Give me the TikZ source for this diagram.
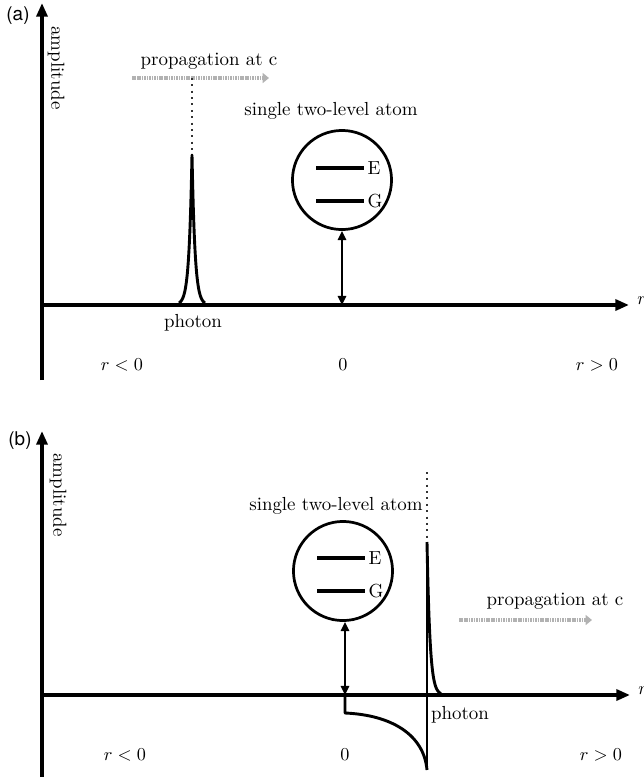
\documentclass[tikz,border=0pt]{standalone}
\usepackage{fontspec}
\newfontfamily\helv{TeX Gyre Heros}
\usetikzlibrary{arrows.meta}
\begin{document}
\begin{tikzpicture}[x=0.55pt,y=-0.55pt,
  every node/.style={font=\fontsize{10.4}{12}\selectfont},
  axis/.style={line width=1.9pt,-{Triangle[length=7.5pt,width=6pt]}},
  dbl/.style={line width=1.5pt,{Triangle[length=5pt,width=4.5pt]}-{Triangle[length=5pt,width=4.5pt]}},
  curve/.style={line width=1.6pt,line join=round},
  level/.style={line width=1.9pt},
  atom/.style={circle,draw,line width=1.5pt,minimum size=54.5pt,inner sep=0pt},
  prop/.style={line width=2.4pt,draw=black!30,dash pattern=on 0.9pt off 0.45pt,-{Triangle[length=3.5pt,width=5.5pt,color=black!30]}},
  dots/.style={line width=1.3pt,draw=black!80,dash pattern=on 1.1pt off 2.4pt},
  lbl/.style={inner sep=1pt},
  panel/.style={font=\helv\fontsize{10.4}{12}\selectfont},
]
\useasboundingbox (0,0) rectangle (644,777);

% ---------------- panel (a) ----------------
\coordinate (vA0) at (42,380);
\coordinate (vA1) at (42,3);
\coordinate (hA0) at (42,305);
\coordinate (hA1) at (629,305);
\draw[axis] (vA0) -- (vA1);
\draw[axis] (hA0) -- (hA1);
\node[panel] (labA) at (18,16) {(a)};
\node[rotate=-90] (ampA) at (56,68) {amplitude};
\node[anchor=west,inner sep=0pt] (rA) at (637,301) {$r$};

\node (propA) at (209,61) {propagation at c};
\coordinate (pA0) at (132,78);
\coordinate (pA1) at (269,78);
\draw[prop] (pA0) -- (pA1);
\coordinate (topA) at (192,78);
\coordinate (peakA) at (192,155);
\draw[dots] (topA) -- (peakA);
\draw[curve] plot[domain=-13:13,samples=81] ({192+\x},{305-150*exp(-abs(\x)/3)});
\node (photA) at (193,323) {photon};

\node (titleA) at (331,111) {single two-level atom};
\node[atom] (atomA) at (342,180) {};
\draw[level] (316,168) -- (364,168) node[anchor=west,lbl] (EA) {E};
\draw[level] (316,201) -- (364,201) node[anchor=west,lbl] (GA) {G};
\coordinate (zeroA) at (342,305);
\draw[dbl] (atomA.south) -- (zeroA);

\node (rnA) at (122,365) {$r<0$};
\node (zA) at (343,365) {$0$};
\node (rpA) at (597,365) {$r>0$};

% ---------------- panel (b) ----------------
\coordinate (vB0) at (42,777);
\coordinate (vB1) at (42,431);
\coordinate (hB0) at (42,695);
\coordinate (hB1) at (630,695);
\draw[axis] (vB0) -- (vB1);
\draw[axis] (hB0) -- (hB1);
\node[panel] (labB) at (20,441) {(b)};
\node[rotate=-90] (ampB) at (58,495) {amplitude};
\node[anchor=west,inner sep=0pt] (rB) at (638,691) {$r$};

\node (titleB) at (336,506) {single two-level atom};
\node[atom] (atomB) at (343,571) {};
\draw[level] (317,558) -- (365,558) node[anchor=west,lbl] (EB) {E};
\draw[level] (317,591) -- (365,591) node[anchor=west,lbl] (GB) {G};
\coordinate (zeroB) at (345,695);
\draw[dbl] (atomB.south -| zeroB) -- (zeroB);

\coordinate (topB) at (427,472);
\coordinate (peakB) at (427,542);
\coordinate (botB) at (427,770);
\draw[dots] (topB) -- (peakB);
\draw[curve] (peakB) -- (botB);
\draw[curve] plot[domain=0:14,samples=50] ({427+\x},{695-153*exp(-\x/3)});
\coordinate (negB) at (345,713);
\draw[curve] (zeroB) -- (negB) .. controls (392,715) and (424,735) .. (botB);
\node (photB) at (460,715) {photon};

\node (propB) at (555,601) {propagation at c};
\coordinate (pB0) at (459,620);
\coordinate (pB1) at (592,620);
\draw[prop] (pB0) -- (pB1);

\node (rnB) at (125,755) {$r<0$};
\node (zB) at (345,755) {$0$};
\node (rpB) at (601,755) {$r>0$};
\end{tikzpicture}
\end{document}
